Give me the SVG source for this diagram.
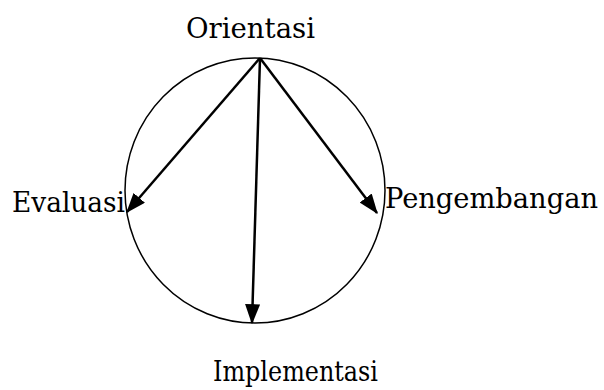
<svg xmlns="http://www.w3.org/2000/svg" width="604" height="390" viewBox="0 0 604 390">
<style>
.lbl{font-family:"DejaVu Serif","Liberation Serif",serif;font-size:28px;fill:#000}
.arr{stroke:#000;stroke-width:2.5;fill:none;marker-end:url(#ah)}
</style>
<defs>
<marker id="ah" markerWidth="8" markerHeight="6" refX="7.5" refY="3" orient="auto" markerUnits="strokeWidth">
<path d="M0,0 L8,3 L0,6 Z" fill="#000"/>
</marker>
</defs>
<rect width="604" height="390" fill="#fff"/>
<g id="cycle"><ellipse cx="255" cy="190.5" rx="130" ry="132.5" fill="none" stroke="#000" stroke-width="1.5"/></g>
<g id="connectors">
<line class="arr" x1="260" y1="58" x2="127" y2="212"/>
<line class="arr" x1="260" y1="58" x2="377" y2="213"/>
<line class="arr" x1="260" y1="58" x2="252" y2="323"/>
</g>
<g id="orientasi"><text class="lbl" x="186" y="38" textLength="129" lengthAdjust="spacingAndGlyphs">Orientasi</text></g>
<g id="evaluasi"><text class="lbl" x="12" y="212" textLength="113" lengthAdjust="spacingAndGlyphs">Evaluasi</text></g>
<g id="pengembangan"><text class="lbl" x="385" y="208" textLength="213" lengthAdjust="spacingAndGlyphs">Pengembangan</text></g>
<g id="implementasi"><text class="lbl" x="213" y="381" textLength="165" lengthAdjust="spacingAndGlyphs">Implementasi</text></g>
</svg>
